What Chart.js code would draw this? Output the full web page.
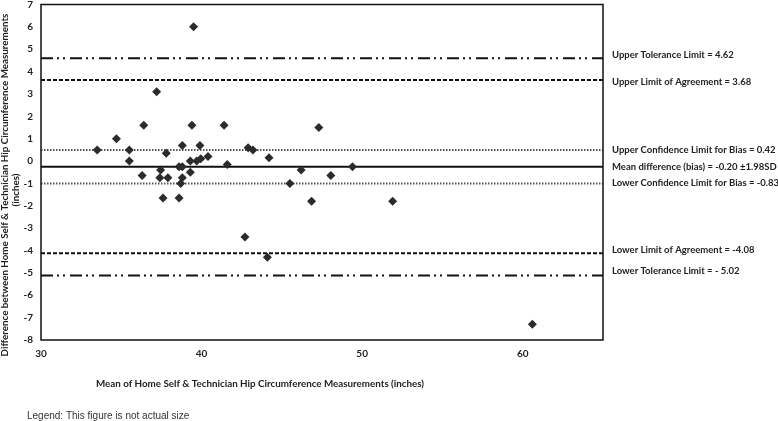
<!DOCTYPE html>
<html>
<head>
<meta charset="utf-8">
<script src="https://cdn.jsdelivr.net/npm/chart.js@4/dist/chart.umd.min.js"></script>
<style>
  html, body { margin: 0; padding: 0; background: #fff; }
  #wrap { width: 778px; height: 421px; position: relative; }
</style>
</head>
<body>
<div id="wrap"><canvas id="myChart"></canvas></div>
<script>
// mean of the two measurements (x) and their difference (y)
const meanValues = [39.5, 37.2, 36.4, 39.4, 41.4, 34.7, 33.5, 35.5, 38.8, 39.9,
  37.8, 35.5, 42.9, 43.2, 44.2, 40.4, 39.95, 39.7, 39.3, 41.6,
  38.6, 38.8, 37.45, 36.3, 37.4, 37.9, 39.3, 38.8, 38.7, 37.6,
  38.6, 45.5, 46.2, 46.85, 47.3, 48.05, 49.4, 51.9, 42.7, 44.1, 60.6];
const diffValues = [6.0, 3.1, 1.6, 1.6, 1.6, 1.0, 0.5, 0.5, 0.7, 0.7,
  0.35, 0.0, 0.6, 0.5, 0.15, 0.2, 0.1, 0.0, 0.0, -0.15,
  -0.25, -0.25, -0.4, -0.65, -0.75, -0.75, -0.5, -0.75, -1.0, -1.65,
  -1.65, -1.0, -0.4, -1.8, 1.5, -0.65, -0.25, -1.8, -3.4, -4.3, -7.3];

// reference lines
const refValues = [4.6, 3.62, 0.5, -0.25, -1.0, -4.12, -5.12];
const refLabels = [
  "Upper Tolerance Limit = 4.62",
  "Upper Limit of Agreement = 3.68",
  "Upper Confidence Limit for Bias = 0.42",
  "Mean difference (bias) = -0.20 ±1.98SD",
  "Lower Confidence Limit for Bias = -0.83",
  "Lower Limit of Agreement = -4.08",
  "Lower Tolerance Limit = - 5.02"
];
const refStyles = ["dashdot", "dash", "dot", "solid", "dot", "dash", "dashdot"];
const labelOffsets = [-3, 2, 0, 0, 0, -3, -5];

const xMin = 30, xMax = 65;
const yMin = -8, yMax = 7;

const dashes = {
  dashdot: [12, 4, 2, 4, 2, 5],
  dash: [4, 2],
  dot: [1.5, 1.5],
  solid: []
};

const points = meanValues.map((m, i) => ({ x: m, y: diffValues[i] }));

const lineSets = refValues.map((v, i) => ({
  type: 'line',
  data: [{ x: xMin, y: v }, { x: xMax, y: v }],
  borderColor: refStyles[i] === 'dot' ? '#555' : '#111',
  borderWidth: 2,
  borderDash: dashes[refStyles[i]],
  pointRadius: 0,
  fill: false
}));

const textPlugin = {
  id: 'texts',
  afterDraw(chart) {
    const ctx = chart.ctx;
    const a = chart.chartArea;
    const yScale = chart.scales.y;
    ctx.save();
    // frame
    ctx.strokeStyle = '#111';
    ctx.lineWidth = 1.5;
    ctx.strokeRect(a.left, a.top, a.right - a.left, a.bottom - a.top);

    ctx.fillStyle = '#222';
    ctx.textBaseline = 'middle';
    ctx.textAlign = 'left';
    ctx.font = 'bold 9.5px Lato';
    refLabels.forEach((t, i) => {
      ctx.fillText(t, a.right + 9, yScale.getPixelForValue(refValues[i]) + labelOffsets[i]);
    });

    // x title
    ctx.textAlign = 'center';
    ctx.font = 'bold 9.8px Lato';
    ctx.fillText('Mean of Home Self & Technician Hip Circumference Measurements (inches)', 260, 384);

    // y title
    ctx.save();
    ctx.translate(5, 185);
    ctx.rotate(-Math.PI / 2);
    ctx.fillText('Difference between Home Self & Technician Hip Circumference Measurements', 0, 0);
    ctx.fillText('(inches)', -5, 11);
    ctx.restore();

    ctx.textAlign = 'left';
    ctx.font = '10px "Liberation Sans"';
    ctx.fillStyle = '#333';
    ctx.fillText('Legend: This figure is not actual size', 27, 416);
    ctx.restore();
  }
};

new Chart(document.getElementById('myChart'), {
  type: 'scatter',
  data: {
    datasets: [{
      data: points,
      pointStyle: 'rectRot',
      pointRadius: 4.5,
      pointHoverRadius: 4.5,
      backgroundColor: '#2b2b2b',
      borderColor: '#2b2b2b',
      borderWidth: 0
    }].concat(lineSets)
  },
  options: {
    responsive: true,
    maintainAspectRatio: false,
    animation: false,
    layout: { padding: { left: 0, top: 3, right: 175, bottom: 61 } },
    plugins: { legend: { display: false }, tooltip: { enabled: false } },
    scales: {
      x: {
        type: 'linear',
        min: xMin, max: xMax,
        grid: { display: false, drawTicks: false },
        border: { display: false },
        ticks: { stepSize: 10, color: '#222', font: { family: 'Lato', weight: 'bold', size: 10 }, padding: 8 },
        afterBuildTicks(scale) { scale.ticks = scale.ticks.filter(t => t.value % 10 === 0); },
        afterFit(scale) { scale.height = 20; scale.paddingLeft = 0; scale.paddingRight = 0; }
      },
      y: {
        min: yMin, max: yMax,
        grid: { display: false, drawTicks: false },
        border: { display: false },
        ticks: { stepSize: 1, color: '#222', font: { family: 'Lato', weight: 'bold', size: 10 }, padding: 8 },
        afterFit(scale) { scale.width = 41; scale.paddingTop = 0; scale.paddingBottom = 0; }
      }
    }
  },
  plugins: [textPlugin]
});
</script>
</body>
</html>
